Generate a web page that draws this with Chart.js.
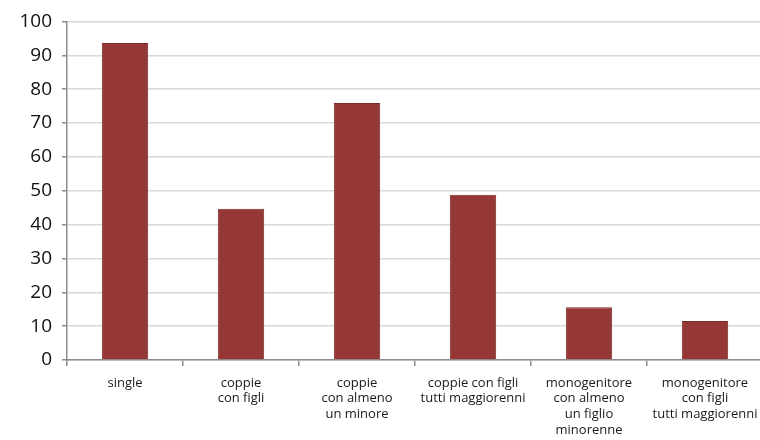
<!DOCTYPE html>
<html>
<head>
<meta charset="utf-8">
<script src="https://cdn.jsdelivr.net/npm/chart.js@4/dist/chart.umd.min.js"></script>
<style>
    html, body { margin: 0; padding: 0; background: #fff; overflow: hidden; }
    #wrap { position: relative; width: 780px; height: 440px; }
</style>
</head>
<body>
<div id="wrap"><canvas id="famChart"></canvas></div>
<script>
// household types (multi-line labels)
const categories = [
    ['single'],
    ['coppie', 'con figli'],
    ['coppie', 'con almeno', 'un minore'],
    ['coppie con figli', 'tutti maggiorenni'],
    ['monogenitore', 'con almeno', 'un figlio', 'minorenne'],
    ['monogenitore', 'con figli', 'tutti maggiorenni']
];
const values = [93.6, 44.7, 75.9, 48.8, 15.6, 11.5];
const yTicks = [0, 10, 20, 30, 40, 50, 60, 70, 80, 90, 100];

const axisGrey = '#8c8c8c';

const canvas = document.getElementById('famChart');
new Chart(canvas, {
    type: 'bar',
    data: {
        labels: categories,
        datasets: [{
            data: values,
            backgroundColor: '#953735',
            borderColor: '#7d2b29',
            borderWidth: 1,
            categoryPercentage: 0.8,
            barPercentage: 0.5
        }]
    },
    options: {
        responsive: true,
        maintainAspectRatio: false,
        animation: false,
        // plot runs past the right edge of the window on purpose
        layout: { padding: { top: 18, right: 17, left: 0, bottom: 0 } },
        plugins: {
            legend: { display: false },
            tooltip: { enabled: false }
        },
        scales: {
            x: {
                offset: true,
                grid: {
                    display: true,
                    drawOnChartArea: false,
                    drawTicks: true,
                    tickLength: 6,
                    color: axisGrey,
                    lineWidth: 1.5,
                    offset: true
                },
                border: { display: true, color: axisGrey, width: 1.5 },
                ticks: {
                    autoSkip: false,
                    maxRotation: 0,
                    minRotation: 0,
                    padding: 9,
                    color: '#1a1a1a',
                    font: { family: '"Open Sans", sans-serif', size: 13, lineHeight: 1.22 }
                },
                afterFit: (scale) => { scale.height = 80; }
            },
            y: {
                min: 0,
                max: 100,
                afterBuildTicks: (scale) => {
                    scale.ticks = yTicks.map(v => ({ value: v }));
                },
                grid: {
                    color: '#d9d9d9',
                    lineWidth: 1.5,
                    drawTicks: true,
                    tickLength: 5,
                    tickColor: axisGrey
                },
                border: { display: true, color: axisGrey, width: 1.5 },
                ticks: {
                    padding: 10,
                    color: '#111',
                    font: { family: '"Open Sans", sans-serif', size: 19 }
                },
                afterFit: (scale) => { scale.width = 67; }
            }
        }
    }
});
</script>
</body>
</html>
